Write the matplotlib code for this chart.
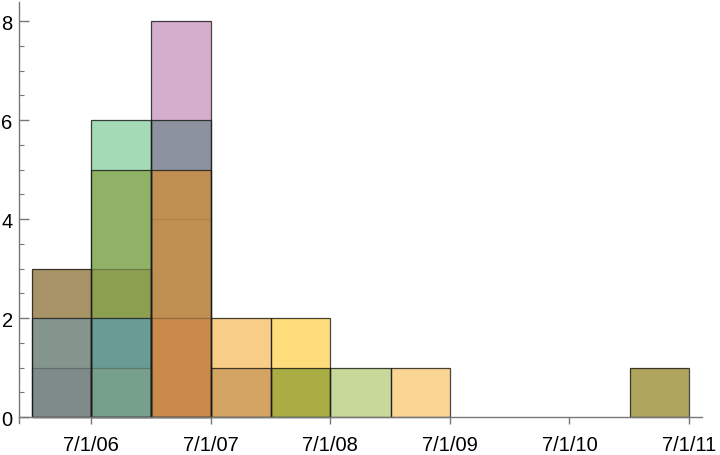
import numpy as np
import pandas as pd
import matplotlib
matplotlib.use('Agg')
import matplotlib.pyplot as plt
import matplotlib.dates as mdates
from matplotlib.ticker import MultipleLocator

# Overlaid half-year histograms: every visible layer (bin start, from count, to count)
seg_bin = ['2006-01-01', '2006-01-01', '2006-01-01',
           '2006-07-01', '2006-07-01', '2006-07-01', '2006-07-01', '2006-07-01',
           '2007-01-01', '2007-01-01', '2007-01-01', '2007-01-01',
           '2007-07-01', '2007-07-01',
           '2008-01-01', '2008-01-01',
           '2008-07-01',
           '2009-01-01',
           '2011-01-01']
seg_low = [0, 1, 2,
           0, 1, 2, 3, 5,
           0, 2, 5, 6,
           0, 1,
           0, 1,
           0,
           0,
           0]
seg_high = [1, 2, 3,
            1, 2, 3, 5, 6,
            2, 5, 6, 8,
            1, 2,
            1, 2,
            1,
            1,
            1]
seg_colors = ['#7f8b8a', '#84968c', '#a89366',
              '#76a08c', '#6a9c94', '#8c9e50', '#90b266', '#a4dab6',
              '#c98a4c', '#c09052', '#8c939e', '#d4afcd',
              '#d4a462', '#f8cd88',
              '#aaad44', '#ffdd7d',
              '#c8d89a',
              '#fad594',
              '#b0a55c']

# bar outlines of the single histograms (count per bin)
dark_bin = ['2006-01-01', '2006-01-01',
            '2006-07-01', '2006-07-01', '2006-07-01',
            '2007-01-01', '2007-01-01', '2007-01-01',
            '2007-07-01', '2007-07-01',
            '2008-01-01', '2008-01-01',
            '2008-07-01', '2009-01-01', '2011-01-01']
dark_count = [2, 3,
              2, 5, 6,
              5, 6, 8,
              1, 2,
              1, 2,
              1, 1, 1]
faint_bin = ['2006-01-01', '2006-07-01', '2006-07-01', '2007-01-01']
faint_count = [1, 1, 3, 2]
faintest_bin = ['2007-01-01']
faintest_count = [4]

tick_dates = ['2006-07-01', '2007-07-01', '2008-07-01',
              '2009-07-01', '2010-07-01', '2011-07-01']

plt.rcParams['font.family'] = ['Liberation Sans', 'DejaVu Sans']

fig = plt.figure(figsize=(7.2, 4.56), dpi=100)
ax = fig.add_axes([19 / 720, 32 / 456, 683 / 720, 421 / 456])


def bin_span(bins):
    start = pd.to_datetime(bins)
    end = start + pd.DateOffset(months=6)
    left = mdates.date2num(start)
    return left, mdates.date2num(end) - left


left, width = bin_span(seg_bin)
low = np.array(seg_low)
high = np.array(seg_high)
ax.bar(left, high - low, bottom=low, width=width, align='edge',
       color=seg_colors, edgecolor='none', linewidth=0)

left, width = bin_span(faintest_bin)
ax.bar(left, faintest_count, width=width, align='edge', fill=False,
       edgecolor=(0.15, 0.15, 0.15, 0.1), linewidth=0.9)

left, width = bin_span(faint_bin)
ax.bar(left, faint_count, width=width, align='edge', fill=False,
       edgecolor=(0.15, 0.15, 0.15, 0.3), linewidth=0.9)

left, width = bin_span(dark_bin)
ax.bar(left, dark_count, width=width, align='edge', fill=False,
       edgecolor=(0.1, 0.1, 0.1, 0.8), linewidth=0.9)

ax.set_xlim(mdates.date2num(pd.Timestamp('2005-11-23')),
            mdates.date2num(pd.Timestamp('2011-08-10')))
ax.set_ylim(-0.121, 8.384)

ticks = pd.to_datetime(tick_dates)
ax.set_xticks(mdates.date2num(ticks))
ax.set_xticklabels([f'{d.month}/{d.day}/{d:%y}' for d in ticks])
ax.set_yticks([0, 2, 4, 6, 8])
ax.yaxis.set_minor_locator(MultipleLocator(0.5))

for s in ['top', 'right']:
    ax.spines[s].set_visible(False)
ax.spines['bottom'].set_position(('data', 0))
for s in ['left', 'bottom']:
    ax.spines[s].set_color('#777777')
    ax.spines[s].set_linewidth(1.0)

ax.tick_params(axis='x', direction='out', length=5, width=1, color='#777777',
               labelsize=14.5, pad=8)
ax.tick_params(axis='y', which='major', direction='in', length=7, width=1,
               color='#777777', labelsize=14.5, pad=4.5)
ax.tick_params(axis='y', which='minor', direction='in', length=3.5, width=0.8,
               color='#777777')
ax.patch.set_alpha(0)

fig.savefig('out.png', dpi=100)
